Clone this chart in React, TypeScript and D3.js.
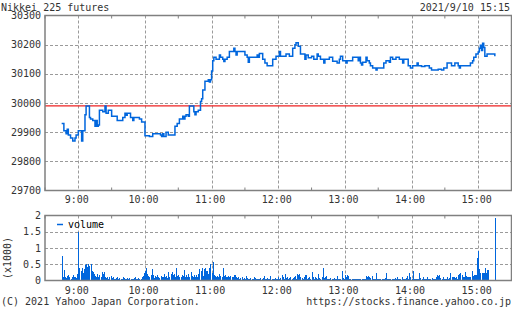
import React from "react";
import * as d3 from "d3";

const titleText = "Nikkei 225 futures";
const dateText = "2021/9/10 15:15";
const copyrightText = "(C) 2021 Yahoo Japan Corporation.";
const urlText = "https://stocks.finance.yahoo.co.jp";

const hourTicks = ["9:00", "10:00", "11:00", "12:00", "13:00", "14:00", "15:00"];
const halfHourTicks = ["8:30", "9:30", "10:30", "11:30", "12:30", "13:30", "14:30", "15:30"];
const priceTicks = [29700, 29800, 29900, 30000, 30100, 30200, 30300];
const volumeTicks = [0, 0.5, 1, 1.5, 2];
const volumeTickLabels = ["0", "0.5", "1", "1.5", "2"];
const prevClose = 29990;

const priceSeries: [string, number][] = [
  ["8:45", 29930], ["8:47", 29905], ["8:49", 29895], ["8:50", 29910], ["8:51", 29890],
  ["8:53", 29880], ["8:55", 29870], ["8:57", 29880], ["8:58", 29890], ["9:00", 29905],
  ["9:03", 29870], ["9:04", 29905], ["9:06", 29960], ["9:07", 29990], ["9:10", 29950],
  ["9:11", 29945], ["9:13", 29940], ["9:15", 29920], ["9:16", 29940], ["9:17", 29920],
  ["9:18", 29925], ["9:19", 29975], ["9:22", 29970], ["9:24", 29990], ["9:25", 29965],
  ["9:27", 29975], ["9:30", 29955], ["9:35", 29940], ["9:40", 29950], ["9:42", 29965],
  ["9:43", 29958], ["9:44", 29965], ["9:46", 29965], ["9:47", 29950], ["9:49", 29940],
  ["9:50", 29950], ["9:55", 29945], ["9:57", 29935], ["10:00", 29888], ["10:04", 29885],
  ["10:07", 29895], ["10:14", 29890], ["10:15", 29885], ["10:16", 29895], ["10:17", 29885],
  ["10:19", 29900], ["10:21", 29890], ["10:27", 29920], ["10:29", 29930], ["10:31", 29945],
  ["10:34", 29955], ["10:35", 29945], ["10:36", 29955], ["10:37", 29960], ["10:39", 29955],
  ["10:40", 29990], ["10:44", 29970], ["10:45", 29960], ["10:46", 29970], ["10:48", 29975],
  ["10:50", 30005], ["10:51", 30015], ["10:52", 30045], ["10:54", 30075], ["10:57", 30080],
  ["10:58", 30072], ["10:59", 30080], ["11:00", 30110], ["11:01", 30145], ["11:02", 30157],
  ["11:04", 30150], ["11:07", 30165], ["11:08", 30157], ["11:10", 30150], ["11:11", 30142],
  ["11:12", 30150], ["11:14", 30157], ["11:16", 30177], ["11:20", 30188], ["11:21", 30177],
  ["11:22", 30165], ["11:23", 30177], ["11:30", 30165], ["11:32", 30157], ["11:33", 30140],
  ["11:34", 30157], ["11:41", 30165], ["11:42", 30157], ["11:43", 30170], ["11:46", 30150],
  ["11:48", 30137], ["11:50", 30128], ["11:55", 30150], ["11:58", 30160], ["12:01", 30177],
  ["12:02", 30160], ["12:07", 30168], ["12:10", 30160], ["12:13", 30188], ["12:15", 30200],
  ["12:16", 30207], ["12:18", 30195], ["12:20", 30168], ["12:24", 30150], ["12:25", 30165],
  ["12:27", 30155], ["12:30", 30160], ["12:32", 30150], ["12:35", 30168], ["12:36", 30160],
  ["12:38", 30150], ["12:41", 30137], ["12:42", 30150], ["12:46", 30157], ["12:49", 30143],
  ["12:53", 30137], ["12:55", 30150], ["12:56", 30160], ["12:58", 30145], ["13:01", 30137],
  ["13:02", 30145], ["13:07", 30157], ["13:12", 30145], ["13:13", 30157], ["13:14", 30137],
  ["13:15", 30130], ["13:16", 30140], ["13:19", 30157], ["13:20", 30145], ["13:22", 30137],
  ["13:23", 30128], ["13:25", 30120], ["13:28", 30113], ["13:29", 30120], ["13:35", 30137],
  ["13:37", 30145], ["13:40", 30140], ["13:41", 30157], ["13:43", 30150], ["13:46", 30157],
  ["13:49", 30150], ["13:52", 30137], ["13:53", 30150], ["13:57", 30128], ["13:59", 30120],
  ["14:01", 30128], ["14:05", 30137], ["14:06", 30128], ["14:09", 30125], ["14:12", 30128],
  ["14:16", 30120], ["14:18", 30113], ["14:24", 30116], ["14:27", 30113], ["14:29", 30120],
  ["14:32", 30137], ["14:36", 30128], ["14:39", 30137], ["14:42", 30128], ["14:43", 30120],
  ["14:44", 30128], ["14:53", 30137], ["14:55", 30145], ["14:56", 30157], ["14:58", 30168],
  ["15:00", 30175], ["15:01", 30188], ["15:02", 30198], ["15:03", 30180], ["15:04", 30205],
  ["15:05", 30190], ["15:06", 30160], ["15:08", 30168], ["15:15", 30160],
];

const volumeStart = "8:45";
const volumeValues = [
  0.75, 0.12, 0.32, 0.1, 0.08, 0.14, 0.16, 0.1, 0.06, 0.12, 0.16, 0.1, 0.12, 0.08, 0.2,
  1.5, 0.38, 0.28, 0.4, 0.22, 0.35, 0.48, 0.5, 0.42, 0.5, 0.45, 0.5, 0.3, 0.25, 0.2,
  0.15, 0.12, 0.2, 0.1, 0.16, 0.12, 0.25, 0.2, 0.27, 0.1, 0.08, 0.12, 0.06, 0.1, 0.14,
  0.08, 0.1, 0.06, 0.05, 0.08, 0.1, 0.06, 0.08, 0.05, 0.06, 0.1, 0.08, 0.06, 0.05, 0.08,
  0.06, 0.08, 0.05, 0.06, 0.05, 0.08, 0.1, 0.06, 0.05, 0.08, 0.06, 0.05, 0.1, 0.15, 0.22,
  0.3, 0.38, 0.2, 0.14, 0.1, 0.16, 0.35, 0.18, 0.08, 0.14, 0.1, 0.16, 0.12, 0.08, 0.15,
  0.1, 0.12, 0.2, 0.1, 0.14, 0.08, 0.25, 0.12, 0.2, 0.26, 0.16, 0.2, 0.12, 0.37, 0.14,
  0.16, 0.1, 0.12, 0.18, 0.14, 0.32, 0.1, 0.16, 0.12, 0.2, 0.1, 0.27, 0.14, 0.1, 0.16,
  0.12, 0.18, 0.1, 0.2, 0.35, 0.3, 0.38, 0.15, 0.34, 0.4, 0.3, 0.29, 0.2, 0.39, 0.5,
  0.22, 0.58, 0.16, 0.14, 0.12, 0.15, 0.1, 0.2, 0.14, 0.1, 0.38, 0.14, 0.16, 0.1, 0.12,
  0.15, 0.12, 0.14, 0.1, 0.12, 0.16, 0.18, 0.1, 0.08, 0.1, 0.06, 0.08, 0.1, 0.06, 0.08,
  0.06, 0.15, 0.08, 0.05, 0.06, 0.08, 0.05, 0.06, 0.1, 0.08, 0.05, 0.06, 0.04, 0.05, 0.08,
  0.06, 0.08, 0.14, 0.06, 0.05, 0.08, 0.06, 0.05, 0.14, 0.06, 0.05, 0.06, 0.08, 0.06, 0.05,
  0.1, 0.06, 0.08, 0.16, 0.1, 0.06, 0.19, 0.08, 0.1, 0.06, 0.08, 0.1, 0.06, 0.08, 0.1,
  0.14, 0.06, 0.19, 0.16, 0.19, 0.1, 0.08, 0.06, 0.1, 0.16, 0.18, 0.06, 0.08, 0.1, 0.06,
  0.27, 0.1, 0.06, 0.1, 0.08, 0.06, 0.2, 0.08, 0.06, 0.1, 0.39, 0.08, 0.12, 0.14, 0.06,
  0.05, 0.06, 0.08, 0.05, 0.06, 0.08, 0.05, 0.06, 0.14, 0.05, 0.04, 0.06, 0.29, 0.08, 0.06,
  0.16, 0.1, 0.16, 0.14, 0.06, 0.05, 0.05, 0.06, 0.05, 0.04, 0.06, 0.05, 0.06, 0.05, 0.04,
  0.06, 0.05, 0.04, 0.06, 0.13, 0.1, 0.13, 0.12, 0.08, 0.13, 0.06, 0.05, 0.06, 0.22, 0.06,
  0.05, 0.06, 0.04, 0.05, 0.06, 0.05, 0.08, 0.22, 0.06, 0.05, 0.06, 0.04, 0.05, 0.06, 0.05,
  0.08, 0.06, 0.1, 0.05, 0.04, 0.06, 0.1, 0.05, 0.06, 0.05, 0.08, 0.13, 0.06, 0.22, 0.1,
  0.06, 0.29, 0.05, 0.06, 0.05, 0.04, 0.06, 0.22, 0.08, 0.06, 0.1, 0.05, 0.06, 0.05, 0.1,
  0.06, 0.05, 0.06, 0.08, 0.06, 0.05, 0.06, 0.1, 0.16, 0.14, 0.16, 0.08, 0.06, 0.1, 0.06,
  0.05, 0.06, 0.1, 0.06, 0.08, 0.22, 0.1, 0.12, 0.1, 0.08, 0.1, 0.06, 0.16, 0.2, 0.22,
  0.16, 0.1, 0.12, 0.27, 0.14, 0.1, 0.12, 0.12, 0.12, 0.29, 0.14, 0.16, 0.16, 0.16, 0.68,
  0.92, 0.34, 0.24, 0.24, 0.24, 0.24, 0.37, 0.24, 0.32, 0.32, 0, 0, 0, 0, 0,
  1.93,
];

const toMin = (s: string) => {
  const [h, m] = s.split(":").map(Number);
  return h * 60 + m;
};

const FONT = "DejaVu Sans Mono";
const BLUE = "#0066dd";
const GRID = "#9a9a9a";
const FRAME = "#808080";
const TEXT = "#333333";

export default function App() {
  const left = 45, right = 511.5;
  const mainTop = 15.5, mainBottom = 190.5;
  const volTop = 215.5, volBottom = 280.5;

  const x = d3.scaleLinear().domain([toMin("8:30"), toMin("15:30")]).range([left, right]);
  const y = d3.scaleLinear().domain([29700, 30300]).range([mainBottom, mainTop]);
  const yv = d3.scaleLinear().domain([0, 2]).range([volBottom, volTop]);

  const line = d3
    .line<[string, number]>()
    .x((d) => x(toMin(d[0])))
    .y((d) => y(d[1]))
    .curve(d3.curveStepAfter);

  const v0 = toMin(volumeStart);

  const textStyle: React.CSSProperties = { fontFamily: FONT, fontSize: 10 };

  return (
    <svg width={512} height={310} style={{ position: "absolute", left: 0, top: 0, background: "#fff" }}>
      <rect x={0} y={0} width={512} height={310} fill="#fff" />
      <text x={1} y={10.5} fill={TEXT} style={textStyle}>{titleText}</text>
      <text x={510} y={10.5} fill={TEXT} textAnchor="end" style={textStyle}>{dateText}</text>

      {/* main grid */}
      {priceTicks.slice(1, -1).map((p) => (
        <line key={"pg" + p} x1={left} x2={right} y1={Math.round(y(p)) + 0.5} y2={Math.round(y(p)) + 0.5}
          stroke={GRID} strokeDasharray="3,2" />
      ))}
      {hourTicks.map((t) => (
        <line key={"hg" + t} x1={Math.round(x(toMin(t))) + 0.5} x2={Math.round(x(toMin(t))) + 0.5}
          y1={mainTop} y2={mainBottom} stroke={GRID} strokeDasharray="3,2" />
      ))}
      {/* prev close */}
      <line x1={left} x2={right} y1={y(prevClose)} y2={y(prevClose)} stroke="#ee2222" strokeWidth={1.2} />
      {/* price line */}
      <path d={line(priceSeries) || ""} fill="none" stroke={BLUE} strokeWidth={1.5} />
      {/* frame */}
      <rect x={left} y={mainTop} width={right - left} height={mainBottom - mainTop} fill="none" stroke={FRAME} strokeWidth={1.5} />
      {halfHourTicks.map((t) => (
        <g key={"ht" + t}>
          <line x1={x(toMin(t))} x2={x(toMin(t))} y1={mainTop} y2={mainTop + 3} stroke={FRAME} />
          <line x1={x(toMin(t))} x2={x(toMin(t))} y1={mainBottom} y2={mainBottom - 3} stroke={FRAME} />
          <line x1={x(toMin(t))} x2={x(toMin(t))} y1={volTop} y2={volTop + 3} stroke={FRAME} />
        </g>
      ))}
      {priceTicks.map((p) => (
        <text key={"pl" + p} x={41} y={y(p) + 3.5} textAnchor="end" fill={TEXT} style={textStyle}>{p}</text>
      ))}
      {hourTicks.map((t) => (
        <text key={"hl" + t} x={x(toMin(t)) - 1.5} y={203} textAnchor="middle" fill={TEXT} style={textStyle}>{t}</text>
      ))}

      {/* volume grid */}
      {volumeTicks.slice(1, -1).map((v) => (
        <line key={"vg" + v} x1={left} x2={right} y1={Math.round(yv(v)) + 0.5} y2={Math.round(yv(v)) + 0.5}
          stroke={GRID} strokeDasharray="3,2" />
      ))}
      {hourTicks.map((t) => (
        <line key={"vhg" + t} x1={Math.round(x(toMin(t))) + 0.5} x2={Math.round(x(toMin(t))) + 0.5}
          y1={volTop} y2={volBottom} stroke={GRID} strokeDasharray="3,2" />
      ))}
      {volumeValues.map((v, i) =>
        v > 0 ? (
          <rect key={"vb" + i} x={Math.round(x(v0 + i))} y={yv(v)} width={1} height={yv(0) - yv(v)}
            fill={BLUE} shapeRendering="crispEdges" />
        ) : null
      )}
      <rect x={left} y={volTop} width={right - left} height={volBottom - volTop} fill="none" stroke={FRAME} strokeWidth={1.5} />
      {volumeTicks.map((v, i) => (
        <text key={"vl" + v} x={41} y={yv(v) + 3.5} textAnchor="end" fill={TEXT} style={textStyle}>{volumeTickLabels[i]}</text>
      ))}
      {hourTicks.map((t) => (
        <text key={"vhl" + t} x={x(toMin(t)) - 1.5} y={293.5} textAnchor="middle" fill={TEXT} style={textStyle}>{t}</text>
      ))}
      <text transform="translate(10.5,258) rotate(-90)" textAnchor="middle" fill={TEXT} style={textStyle}>(x1000)</text>
      {/* legend */}
      <line x1={57} x2={63} y1={224.5} y2={224.5} stroke={BLUE} strokeWidth={1.5} />
      <text x={68} y={228} fill="#000" style={textStyle}>volume</text>

      <text x={1} y={305} fill={TEXT} style={textStyle}>{copyrightText}</text>
      <text x={511} y={305} textAnchor="end" fill={TEXT} style={textStyle}>{urlText}</text>
    </svg>
  );
}
